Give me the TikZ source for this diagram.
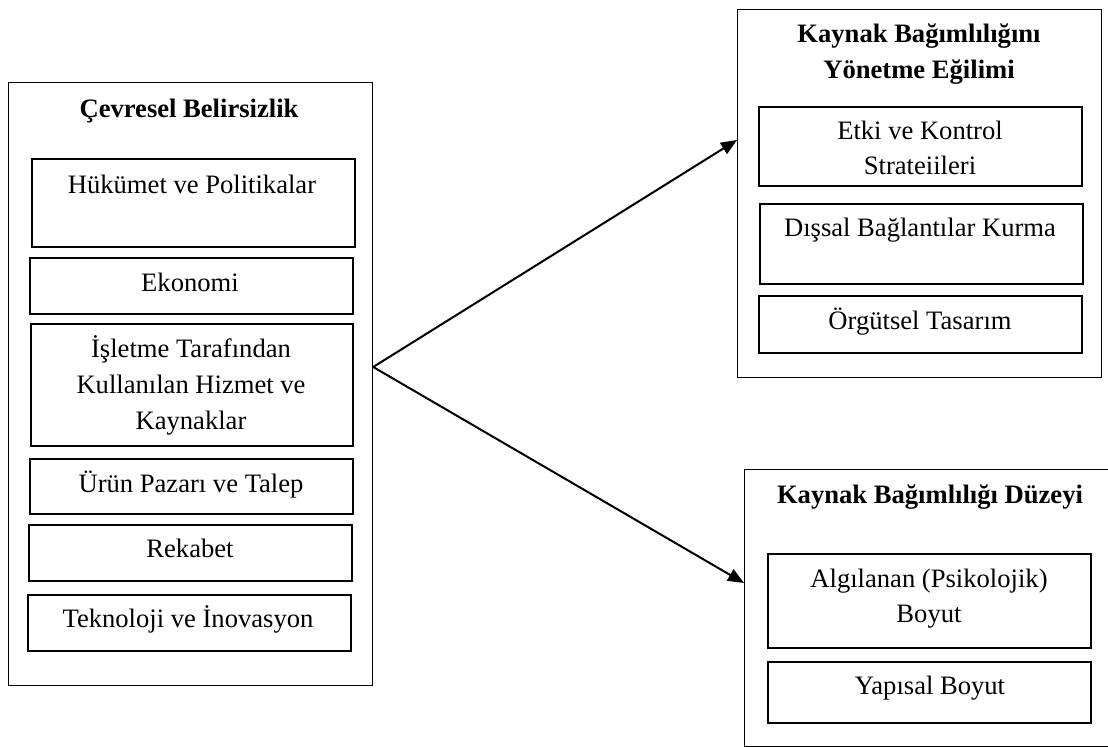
\documentclass[tikz,border=0pt]{standalone}
\usepackage{fontspec}
\setmainfont{Liberation Serif}
\usetikzlibrary{arrows.meta}
\begin{document}
\begin{tikzpicture}[x=0.5pt,y=-0.5pt,
  outerbox/.style={draw, line width=0.6pt, anchor=north west, inner sep=0pt},
  innerbox/.style={draw, line width=0.9pt, anchor=north west, inner sep=0pt},
  label/.style={anchor=base, inner sep=0pt, font=\fontsize{13.3pt}{18pt}\selectfont},
  heading/.style={label, font=\fontsize{13.3pt}{18pt}\selectfont\bfseries},
  link/.style={line width=1pt, -{Triangle[length=8pt,width=6.5pt]}}]
\useasboundingbox (0,0) rectangle (1108,747);

% left group: environmental uncertainty
\node[outerbox, minimum width=182pt, minimum height=301.5pt] (env) at (8,82) {};
\node[heading] (envT) at (189,118) {Çevresel Belirsizlik};
\node[innerbox, minimum width=161.5pt, minimum height=44pt] (hkB) at (31,158) {};
\node[label] (hk) at (192,194) {Hükümet ve Politikalar};
\node[innerbox, minimum width=161.5pt, minimum height=28pt] (ekB) at (29,257) {};
\node[label] (ek) at (190,292) {Ekonomi};
\node[innerbox, minimum width=161pt, minimum height=61pt] (isB) at (30,323) {};
\node[label] (is1) at (191,358) {İşletme Tarafından};
\node[label] (is2) at (191,394) {Kullanılan Hizmet ve};
\node[label] (is3) at (191,430) {Kaynaklar};
\node[innerbox, minimum width=161.5pt, minimum height=27.5pt] (urB) at (29,458) {};
\node[label] (ur) at (191,493) {Ürün Pazarı ve Talep};
\node[innerbox, minimum width=161.5pt, minimum height=28pt] (rkB) at (28,524) {};
\node[label] (rk) at (190,558) {Rekabet};
\node[innerbox, minimum width=161.5pt, minimum height=28pt] (tkB) at (27,594) {};
\node[label] (tk) at (188,628) {Teknoloji ve İnovasyon};

% top right group: tendency to manage resource dependence
\node[outerbox, minimum width=182pt, minimum height=184pt] (mng) at (737,9) {};
\node[heading] (mngT1) at (919,43) {Kaynak Bağımlılığını};
\node[heading] (mngT2) at (919,79) {Yönetme Eğilimi};
\node[innerbox, minimum width=161.5pt, minimum height=39.5pt] (etB) at (758,106) {};
\node[label] (et1) at (920,140) {Etki ve Kontrol};
\node[label] (et2) at (920,175) {Strateiileri};
\node[innerbox, minimum width=161.5pt, minimum height=40pt] (diB) at (759,203) {};
\node[label] (di) at (920,237) {Dışsal Bağlantılar Kurma};
\node[innerbox, minimum width=161.5pt, minimum height=28.5pt] (orB) at (758,295) {};
\node[label] (or) at (920,330) {Örgütsel Tasarım};

% bottom right group: level of resource dependence
\node[outerbox, minimum width=186pt, minimum height=138.5pt] (lvl) at (744,469) {};
\node[heading] (lvlT) at (930,504) {Kaynak Bağımlılığı Düzeyi};
\node[innerbox, minimum width=161.5pt, minimum height=47pt] (alB) at (767,553) {};
\node[label] (al1) at (929,588) {Algılanan (Psikolojik)};
\node[label] (al2) at (929,623) {Boyut};
\node[innerbox, minimum width=161.5pt, minimum height=30.5pt] (yaB) at (767,661) {};
\node[label] (ya) at (930,695) {Yapısal Boyut};

% connectors
\coordinate (src) at (env.east |- 0,367);
\coordinate (dstA) at (mng.west |- 0,140);
\coordinate (dstB) at (lvl.west |- 0,583);
\draw[link] (src) -- (dstA);
\draw[link] (src) -- (dstB);
\end{tikzpicture}
\end{document}
